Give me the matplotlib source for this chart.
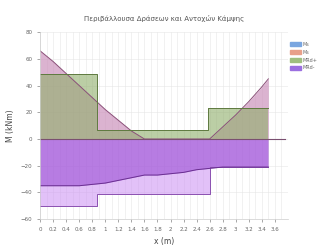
import numpy as np
import matplotlib
matplotlib.use("Agg")
import matplotlib.pyplot as plt
from matplotlib.patches import Patch

# envelope of design moments (x in m, M in kNm)
x = [0, 0.2, 0.4, 0.6, 0.8, 1.0, 1.2, 1.4, 1.6, 1.8, 2.0, 2.2, 2.4, 2.6, 2.8, 3.0, 3.2, 3.4, 3.5]
m_hog = [66, 58, 49, 40, 31, 22, 14, 6, 0, 0, 0, 0, 0, 0, 9, 18, 28, 39, 45]
m_sag = [-35, -35, -35, -35, -34, -33, -31, -29, -27, -27, -26, -25, -23, -22, -21, -21, -21, -21, -21]

# resisting moments (steps)
x_rd = [0, 0.88, 0.88, 2.57, 2.57, 3.5]
mrd_pos = [49, 49, 7, 7, 23, 23]
x_rdn = [0, 0.88, 0.88, 2.6, 2.6, 3.5]
mrd_neg = [-50, -50, -41, -41, -21, -21]

labels = ["Ms", "Ms", "MRd+", "MRd-"]
legend_colors = ["#7aa6e0", "#e8a08a", "#9fbf7f", "#9b6fe0"]
y_ticks = [-60, -40, -20, 0, 20, 40, 60, 80]
x_ticks = np.round(np.arange(0, 3.61, 0.2), 1)

fig = plt.figure(figsize=(3.34, 2.49), dpi=100)
ax = fig.add_axes([0.12, 0.12, 0.742, 0.751])

ax.fill_between(x_rdn, mrd_neg, 0, color="#cf98f4", alpha=0.6, lw=0)
ax.plot(x_rdn, mrd_neg, color="#8a4fb0", lw=0.7)
ax.fill_between(x, m_sag, 0, color="#9444d0", alpha=0.55, lw=0)
ax.plot(x, m_sag, color="#6a2f90", lw=0.7)

ax.fill_between(x, m_hog, 0, color="#c98ab8", alpha=0.65, lw=0)
ax.plot(x, m_hog, color="#8a4f78", lw=0.7)
ax.fill_between(x_rd, mrd_pos, 0, color="#8fae6a", alpha=0.6, lw=0)
ax.plot(x_rd, mrd_pos, color="#5f7a40", lw=0.7)

ax.axhline(0, color="#7a4f70", lw=0.8, xmax=3.75 / 3.8)

ax.set_xlim(0, 3.8)
ax.set_ylim(-60, 80)
ax.set_yticks(y_ticks)
ax.set_xticks(x_ticks)
ax.set_xticklabels([("%g" % v) for v in x_ticks])
ax.set_xticks(np.arange(0, 3.81, 0.1), minor=True)
ax.tick_params(labelsize=4, colors="#666666", length=2, width=0.4)
ax.tick_params(which="minor", length=0)
ax.grid(True, which="both", color="#e6e6e6", lw=0.4)
ax.set_axisbelow(True)
for s in ["top", "right"]:
    ax.spines[s].set_visible(False)
for s in ["left", "bottom"]:
    ax.spines[s].set_color("#cccccc")
    ax.spines[s].set_linewidth(0.5)

ax.set_title("Περιβάλλουσα Δράσεων και Αντοχών Κάμψης", fontsize=5, color="#555555", pad=8)
ax.set_ylabel("M (kNm)", fontsize=5.5, color="#444444")
ax.set_xlabel("x (m)", fontsize=5.5, color="#444444")

handles = [Patch(facecolor=c, edgecolor=c) for c in legend_colors]
fig.legend(handles, labels, loc="upper left", bbox_to_anchor=(0.855, 0.85),
           fontsize=3.5, frameon=False, handlelength=2.2, handleheight=0.9,
           labelspacing=0.6, handletextpad=0.4, labelcolor="#666666")

fig.savefig("out.png", dpi=100)
